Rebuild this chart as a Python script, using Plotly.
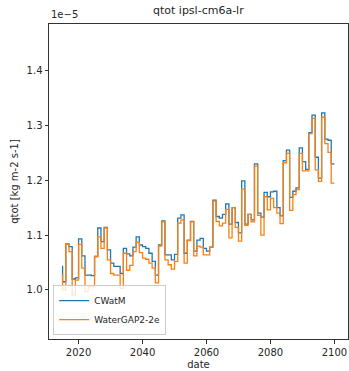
import plotly.graph_objects as go

# Annual total runoff, in units of 1e-5 kg m-2 s-1
years = list(range(2015, 2101))

cwatm = [
    1.044, 1.015, 1.084, 1.079, 1.020, 1.022, 1.093, 1.062, 1.027, 1.027,  # 2015-2024
    1.026, 1.061, 1.113, 1.088, 1.114, 1.073, 1.049, 1.043, 1.043, 1.030,  # 2025-2034
    1.076, 1.066, 1.062, 1.078, 1.097, 1.082, 1.079, 1.076, 1.067, 1.052,  # 2035-2044
    1.027, 1.082, 1.126, 1.064, 1.064, 1.055, 1.065, 1.131, 1.137, 1.067,  # 2045-2054
    1.091, 1.125, 1.071, 1.091, 1.094, 1.076, 1.071, 1.078, 1.164, 1.134,  # 2055-2064
    1.131, 1.138, 1.157, 1.120, 1.150, 1.123, 1.104, 1.199, 1.120, 1.138,  # 2065-2074
    1.128, 1.230, 1.140, 1.133, 1.178, 1.170, 1.179, 1.180, 1.150, 1.135,  # 2075-2084
    1.236, 1.255, 1.169, 1.180, 1.186, 1.259, 1.234, 1.220, 1.287, 1.319,  # 2085-2094
    1.242, 1.204, 1.323, 1.275, 1.273, 1.230,                              # 2095-2100
]

watergap = [
    1.029, 1.000, 1.083, 1.070, 0.991, 1.018, 1.083, 1.040, 0.997, 1.006,  # 2015-2024
    1.006, 1.061, 1.097, 1.076, 1.113, 1.055, 1.030, 1.027, 1.027, 1.003,  # 2025-2034
    1.067, 1.036, 1.045, 1.070, 1.087, 1.068, 1.058, 1.056, 1.049, 1.040,  # 2035-2044
    1.013, 1.080, 1.124, 1.055, 1.046, 1.038, 1.052, 1.122, 1.128, 1.049,  # 2045-2054
    1.090, 1.124, 1.062, 1.080, 1.078, 1.064, 1.064, 1.078, 1.162, 1.125,  # 2055-2064
    1.117, 1.122, 1.147, 1.095, 1.150, 1.114, 1.089, 1.184, 1.118, 1.138,  # 2065-2074
    1.124, 1.226, 1.136, 1.100, 1.170, 1.146, 1.167, 1.150, 1.140, 1.121,  # 2075-2084
    1.232, 1.249, 1.145, 1.174, 1.183, 1.249, 1.217, 1.217, 1.285, 1.313,  # 2085-2094
    1.219, 1.198, 1.315, 1.267, 1.251, 1.195,                              # 2095-2100
]

x_ticks = [2020, 2040, 2060, 2080, 2100]
y_ticks = [1.0, 1.1, 1.2, 1.3, 1.4]

FONT = "DejaVu Sans"
TXT = "#262626"

fig = go.Figure()
fig.add_trace(go.Scatter(
    x=years, y=cwatm, name="CWatM", mode="lines",
    line=dict(color="#1f77b4", width=1.3, shape="vh"),
))
fig.add_trace(go.Scatter(
    x=years, y=watergap, name="WaterGAP2-2e", mode="lines",
    line=dict(color="#ff7f0e", width=1.3, shape="vh"),
))

axis_common = dict(
    showgrid=False, zeroline=False, showline=True, linecolor="#333333",
    linewidth=1, mirror=True, ticks="outside", ticklen=3.5, tickwidth=0.8,
    tickcolor="#333333", tickfont=dict(family=FONT, size=10, color=TXT),
)

fig.update_layout(
    width=349, height=371,
    margin=dict(l=49, r=1, t=24, b=32),
    paper_bgcolor="white", plot_bgcolor="white",
    showlegend=True,
    legend=dict(
        x=0.014, y=0.012, xanchor="left", yanchor="bottom",
        bgcolor="rgba(255,255,255,0.8)", bordercolor="#cccccc", borderwidth=1,
        font=dict(family=FONT, size=9, color=TXT),
        itemwidth=30, tracegroupgap=0,
    ),
    xaxis=dict(
        range=[2010.75, 2104.25], tickvals=x_ticks,
        title=dict(text="date", font=dict(family=FONT, size=10, color=TXT), standoff=4),
        **axis_common,
    ),
    yaxis=dict(
        range=[0.9106, 1.485], tickvals=y_ticks, tickformat=".1f",
        title=dict(text="qtot [kg m-2 s-1]", font=dict(family=FONT, size=10, color=TXT), standoff=6),
        **axis_common,
    ),
    annotations=[
        dict(text="qtot ipsl-cm6a-lr", x=0.5, y=1, xref="paper", yref="paper",
             xanchor="center", yanchor="bottom", yshift=5, showarrow=False,
             font=dict(family=FONT, size=11, color=TXT)),
        dict(text="1e\u22125", x=0, y=1, xref="paper", yref="paper",
             xanchor="left", yanchor="bottom", yshift=2, showarrow=False,
             font=dict(family=FONT, size=10, color=TXT)),
    ],
)

fig.write_html("out.html")
